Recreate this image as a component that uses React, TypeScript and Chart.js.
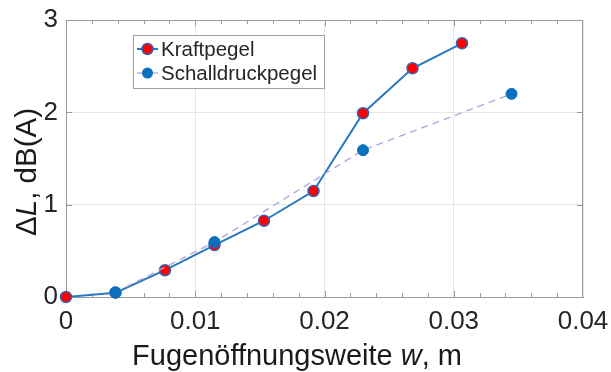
import React, { useEffect, useRef } from "react";
import { Chart, registerables } from "chart.js";

Chart.register(...registerables);

// ---- data ----
const kraftW = [0, 0.00383, 0.00766, 0.01149, 0.01532, 0.01915, 0.02298, 0.02681, 0.03064];
const kraftValues = [0, 0.047, 0.29, 0.563, 0.826, 1.148, 1.99, 2.477, 2.748];
const schallW = [0.00383, 0.01149, 0.02298, 0.03447];
const schallValues = [0.051, 0.595, 1.59, 2.2];
const seriesLabels = ["Kraftpegel", "Schalldruckpegel"];
const xTickValues = [0, 0.01, 0.02, 0.03, 0.04];
const xTickLabels = ["0", "0.01", "0.02", "0.03", "0.04"];
const xMinorStep = 0.002;
const yTickValues = [0, 1, 2, 3];
const yTickLabels = ["0", "1", "2", "3"];
const xTitleParts = [
  { t: "Fugenöffnungsweite ", i: false },
  { t: "w", i: true },
  { t: ", m", i: false },
];
const yTitleParts = [
  { t: "Δ", i: false },
  { t: "L", i: true },
  { t: ", dB(A)", i: false },
];

const FONT = "'Liberation Sans', Arial, Helvetica, sans-serif";
const TEXT = "#262626";
const KRAFT_LINE = "#2a78bd";
const KRAFT_FILL = "#ff0000";
const KRAFT_EDGE = "#3a62b0";
const SCHALL_FILL = "#0a6fbd";
const SCHALL_LINE = "#aba6da";
const AXIS = "#9a9a9a";
const GRID = "#e6e6e6";

function drawParts(ctx: CanvasRenderingContext2D, parts: { t: string; i: boolean }[], size: number, cx: number, cy: number) {
  const widths = parts.map((p) => {
    ctx.font = `${p.i ? "italic " : ""}${size}px ${FONT}`;
    return ctx.measureText(p.t).width;
  });
  const total = widths.reduce((a, b) => a + b, 0);
  let x = cx - total / 2;
  parts.forEach((p, k) => {
    ctx.font = `${p.i ? "italic " : ""}${size}px ${FONT}`;
    ctx.fillText(p.t, x, cy);
    x += widths[k];
  });
}

const decorPlugin = {
  id: "decor",
  beforeDatasetsDraw(chart: any) {
    const { ctx, chartArea: a, scales } = chart;
    const xs = scales.x;
    const ys = scales.y;
    ctx.save();
    ctx.strokeStyle = AXIS;
    ctx.lineWidth = 1;
    // box top/right
    ctx.beginPath();
    ctx.moveTo(a.left, a.top + 0.5);
    ctx.lineTo(a.right, a.top + 0.5);
    ctx.moveTo(a.right - 0.5, a.top);
    ctx.lineTo(a.right - 0.5, a.bottom);
    ctx.stroke();
    // x minor + major ticks, inward, bottom and top
    ctx.beginPath();
    const n = Math.round((xs.max - xs.min) / xMinorStep);
    for (let k = 1; k < n; k++) {
      const px = Math.round(xs.getPixelForValue(xs.min + k * xMinorStep)) + 0.5;
      const major = k % 5 === 0;
      const len = major ? 6 : 4;
      ctx.moveTo(px, a.bottom);
      ctx.lineTo(px, a.bottom - len);
      ctx.moveTo(px, a.top);
      ctx.lineTo(px, a.top + len);
    }
    // y major ticks inward, left and right
    yTickValues.forEach((v) => {
      const py = Math.round(ys.getPixelForValue(v)) + 0.5;
      ctx.moveTo(a.left, py);
      ctx.lineTo(a.left + 6, py);
      ctx.moveTo(a.right, py);
      ctx.lineTo(a.right - 6, py);
    });
    ctx.stroke();
    ctx.restore();
  },
  afterDraw(chart: any) {
    const { ctx, chartArea: a } = chart;
    ctx.save();
    // legend
    const lx = a.left + 67;
    const ly = a.top + 15;
    const lw = 191;
    const lh = 53;
    ctx.fillStyle = "#ffffff";
    ctx.fillRect(lx, ly, lw, lh);
    ctx.strokeStyle = "#a0a0a0";
    ctx.lineWidth = 1;
    ctx.strokeRect(lx + 0.5, ly + 0.5, lw, lh);
    const rows = [ly + 14, ly + 38];
    const mx = lx + 14.5;
    // Kraft row
    ctx.strokeStyle = KRAFT_LINE;
    ctx.lineWidth = 2;
    ctx.beginPath();
    ctx.moveTo(lx + 4, rows[0]);
    ctx.lineTo(lx + 25, rows[0]);
    ctx.stroke();
    ctx.beginPath();
    ctx.arc(mx, rows[0], 5.5, 0, Math.PI * 2);
    ctx.fillStyle = KRAFT_FILL;
    ctx.fill();
    ctx.lineWidth = 1.5;
    ctx.strokeStyle = KRAFT_EDGE;
    ctx.stroke();
    // Schall row
    ctx.strokeStyle = SCHALL_LINE;
    ctx.lineWidth = 1.3;
    ctx.beginPath();
    ctx.moveTo(lx + 4, rows[1]);
    ctx.lineTo(lx + 25, rows[1]);
    ctx.stroke();
    ctx.beginPath();
    ctx.arc(mx, rows[1], 5.5, 0, Math.PI * 2);
    ctx.fillStyle = SCHALL_FILL;
    ctx.fill();
    // labels
    ctx.fillStyle = TEXT;
    ctx.font = `20.5px ${FONT}`;
    ctx.textBaseline = "middle";
    ctx.textAlign = "left";
    ctx.fillText(seriesLabels[0], lx + 28, rows[0] + 1);
    ctx.fillText(seriesLabels[1], lx + 28, rows[1] + 1);

    // axis titles
    ctx.textBaseline = "alphabetic";
    ctx.fillStyle = "#1a1a1a";
    drawParts(ctx, xTitleParts, 29, 297, 365);
    ctx.save();
    ctx.translate(36, 172);
    ctx.rotate(-Math.PI / 2);
    drawParts(ctx, yTitleParts, 29.5, 0, 0);
    ctx.restore();
    ctx.restore();
  },
};

export default function App() {
  const ref = useRef<HTMLCanvasElement | null>(null);
  useEffect(() => {
    if (!ref.current) return;
    const chart = new Chart(ref.current, {
      type: "scatter",
      data: {
        datasets: [
          {
            label: seriesLabels[0],
            data: kraftW.map((w, i) => ({ x: w, y: kraftValues[i] })),
            showLine: true,
            borderColor: KRAFT_LINE,
            borderWidth: 2,
            pointBackgroundColor: KRAFT_FILL,
            pointBorderColor: KRAFT_EDGE,
            pointBorderWidth: 1.5,
            pointRadius: 5.5,
            clip: false as any,
            order: 1,
          },
          {
            label: seriesLabels[1],
            data: schallW.map((w, i) => ({ x: w, y: schallValues[i] })),
            showLine: true,
            borderColor: SCHALL_LINE,
            borderWidth: 1.3,
            borderDash: [7, 5],
            pointBackgroundColor: SCHALL_FILL,
            pointBorderColor: SCHALL_FILL,
            pointBorderWidth: 1,
            pointRadius: 5.5,
            clip: false as any,
            order: 0,
          },
        ],
      },
      options: {
        responsive: false,
        animation: false,
        events: [],
        layout: { padding: { top: 20, right: 28, left: 0, bottom: 0 } },
        plugins: { legend: { display: false }, tooltip: { enabled: false } },
        scales: {
          x: {
            type: "linear",
            min: 0,
            max: 0.04,
            afterBuildTicks: (s: any) => {
              s.ticks = xTickValues.map((v) => ({ value: v }));
            },
            afterFit: (s: any) => {
              s.height = 75;
              s.paddingLeft = 0;
              s.paddingRight = 0;
            },
            ticks: {
              callback: (_v: any, i: number) => xTickLabels[i],
              font: { family: FONT, size: 26 },
              color: TEXT,
              padding: 9,
              maxRotation: 0,
              autoSkip: false,
            },
            grid: { color: GRID, drawTicks: false },
            border: { display: true, color: AXIS },
          },
          y: {
            type: "linear",
            min: 0,
            max: 3,
            afterBuildTicks: (s: any) => {
              s.ticks = yTickValues.map((v) => ({ value: v }));
            },
            afterFit: (s: any) => {
              s.width = 66;
              s.paddingTop = 0;
              s.paddingBottom = 0;
            },
            ticks: {
              callback: (_v: any, i: number) => yTickLabels[i],
              font: { family: FONT, size: 26 },
              color: TEXT,
              padding: 8,
              autoSkip: false,
            },
            grid: { color: GRID, drawTicks: false },
            border: { display: true, color: AXIS },
          },
        },
      },
      plugins: [decorPlugin],
    });
    return () => chart.destroy();
  }, []);
  return (
    <div style={{ position: "absolute", left: 0, top: 0, width: 611, height: 372, background: "#fff" }}>
      <canvas ref={ref} width={611} height={372} style={{ display: "block" }} />
    </div>
  );
}
